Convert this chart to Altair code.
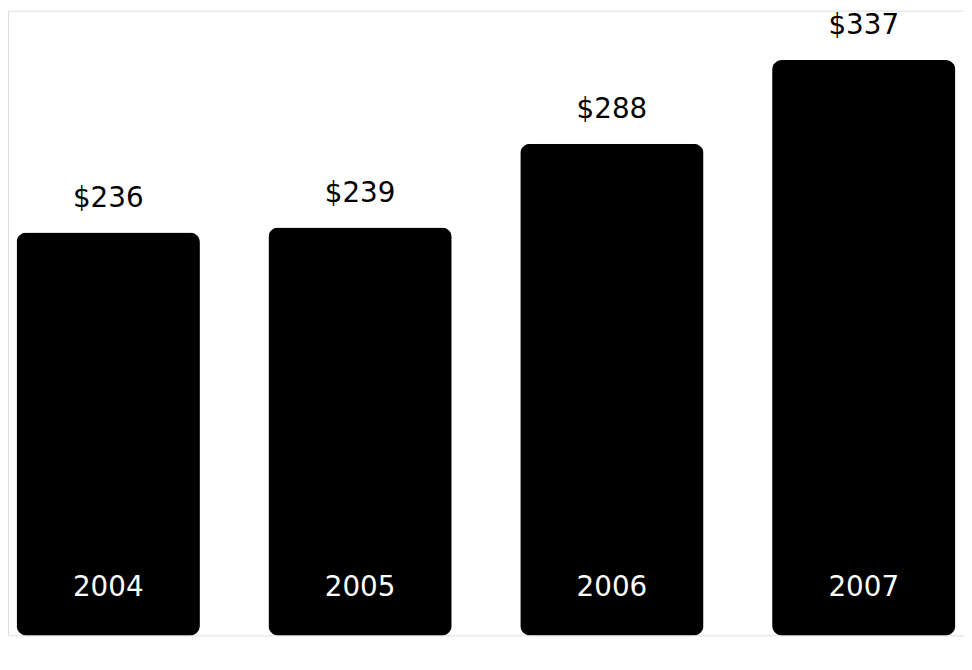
import altair as alt
import pandas as pd

years = ["2004", "2005", "2006", "2007"]
values = [236, 239, 288, 337]
value_labels = ["$236", "$239", "$288", "$337"]

df = pd.DataFrame({"year": years, "value": values, "label": value_labels})

x = alt.X("year:N", sort=years, axis=None,
          scale=alt.Scale(paddingInner=0.272, paddingOuter=0.034))
y_scale = alt.Scale(domain=[0, 366], nice=False, zero=True)

base = alt.Chart(df)

bars = base.mark_bar(color="black", cornerRadius=10).encode(
    x=x,
    y=alt.Y("value:Q", scale=y_scale, axis=None),
)

top_labels = base.mark_text(
    baseline="alphabetic", dy=-26, fontSize=28, font="DejaVu Sans", color="black"
).encode(x=x, y=alt.Y("value:Q", scale=y_scale), text="label:N")

year_labels = base.mark_text(
    baseline="alphabetic", fontSize=28, font="DejaVu Sans", color="white"
).encode(x=x, y=alt.datum(23), text="year:N")

chart = (bars + top_labels + year_labels).properties(
    width=964, height=630, padding=0, autosize="none"
).configure_view(strokeWidth=0, stroke="transparent").configure(background="white")

chart.save("out.html", embed_options={"renderer": "svg", "actions": False})
